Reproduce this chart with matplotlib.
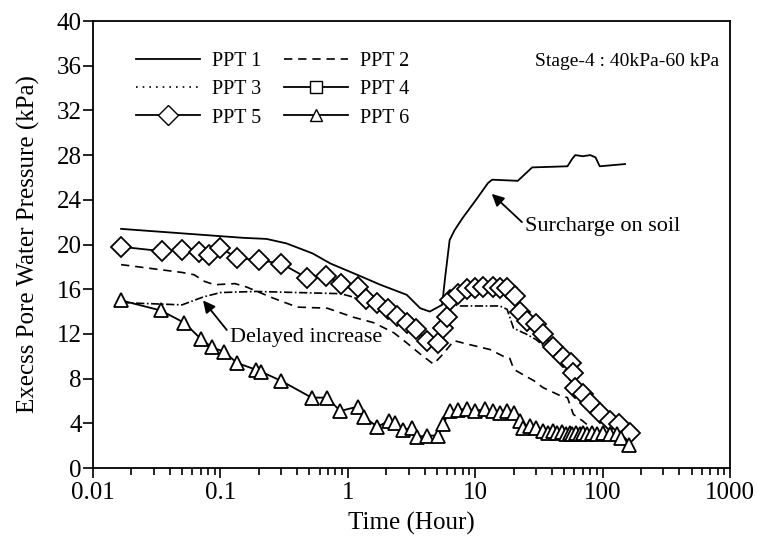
import matplotlib
matplotlib.use('Agg')

import matplotlib.pyplot as plt
from matplotlib.lines import Line2D

plt.rcParams['font.family'] = ['Liberation Serif', 'DejaVu Serif']

# ---------------- data : time (hour) / excess pore water pressure (kPa) ----------------
t_ppt1 = [0.0166, 0.15, 0.23, 0.33, 0.53, 0.73, 1.18, 1.8, 2.9, 3.7, 4.4, 5.5, 5.8,
          6.3, 6.9, 8.0, 10.3, 12.6, 13.6, 21.6, 28, 53, 58, 61, 70, 80, 88, 95, 150]
p_ppt1 = [21.4, 20.6, 20.5, 20.1, 19.2, 18.3, 17.3, 16.4, 15.5, 14.3, 14.0, 14.6, 17.0,
          20.4, 21.3, 22.4, 24.1, 25.5, 25.8, 25.7, 26.9, 27.0, 27.7, 28.0, 27.9, 28.0, 27.8, 27.0, 27.2]

t_ppt2 = [0.0166, 0.05, 0.062, 0.075, 0.09, 0.13, 0.16, 0.26, 0.4, 0.69, 1.1, 1.6, 2.3,
          2.9, 3.7, 4.7, 5.6, 6.8, 8.6, 13.1, 16.6, 18.7, 20, 21, 29, 34, 46, 53, 59, 70, 85]
p_ppt2 = [18.2, 17.5, 17.3, 16.7, 16.4, 16.5, 16.2, 15.2, 14.4, 14.3, 13.5, 13.0, 12.1,
          11.2, 10.2, 9.3, 10.2, 11.4, 11.1, 10.6, 10.0, 9.8, 8.9, 8.7, 7.8, 7.2, 6.5, 6.3, 4.8, 4.2, 3.4]

t_ppt3 = [0.0166, 0.05, 0.073, 0.1, 0.19, 0.88, 1.1, 1.6, 2.3, 2.9, 3.7, 4.4, 5.1, 5.8,
          6.3, 7.7, 15.6, 17.8, 20, 25, 30, 40, 50, 60, 80, 100, 130, 160]
p_ppt3 = [14.8, 14.6, 15.3, 15.7, 15.8, 15.6, 15.3, 14.4, 13.4, 12.7, 11.7, 11.0, 10.8, 12.0,
          14.7, 14.5, 14.5, 14.2, 12.5, 12.0, 11.5, 10.3, 9.0, 7.0, 5.2, 4.3, 3.5, 3.0]

t_ppt5 = [0.0166, 0.035, 0.05, 0.068, 0.082, 0.1, 0.135, 0.2, 0.3, 0.48, 0.67, 0.88, 1.2,
          1.4, 1.7, 2.05, 2.45, 2.9, 3.4, 4.2, 5.1, 5.6, 6.0, 6.3, 7.3, 8.6, 10, 11.5, 13.8,
          15.7, 17.8, 20.6, 22.5, 25.5, 30, 34, 41, 49, 56, 59, 61, 70, 80, 95, 115, 135, 165]
p_ppt5 = [19.8, 19.4, 19.5, 19.3, 19.1, 19.7, 18.8, 18.6, 18.3, 17.0, 17.2, 16.5, 16.2,
          15.1, 14.8, 14.2, 13.6, 13.0, 12.4, 11.4, 11.2, 12.5, 13.5, 15.0, 15.6, 16.0, 16.1, 16.2, 16.2,
          16.1, 16.1, 15.4, 14.0, 13.2, 12.9, 12.0, 10.8, 9.9, 9.4, 8.5, 7.2, 6.6, 5.8, 4.9, 4.2, 3.9, 3.1]

t_ppt6 = [0.0166, 0.034, 0.052, 0.071, 0.086, 0.107, 0.135, 0.19, 0.21, 0.3, 0.52, 0.69,
          0.87, 1.2, 1.33, 1.7, 2.1, 2.35, 2.7, 3.2, 3.5, 4.2, 5.1, 5.6, 6.3, 7.3, 8.6, 10,
          12, 13.8, 15.7, 17.8, 20, 22.5, 23.8, 27, 30, 34, 37, 41, 44, 48, 52, 55, 58, 62,
          66, 70, 76, 82, 90, 100, 115, 130, 140, 160]
p_ppt6 = [15.0, 14.1, 13.0, 11.5, 10.8, 10.4, 9.4, 8.8, 8.6, 7.8, 6.3, 6.3,
          5.1, 5.5, 4.6, 3.7, 4.2, 4.0, 3.4, 3.6, 2.8, 2.9, 2.9, 3.9, 5.1, 5.2, 5.3, 5.1,
          5.3, 5.1, 4.9, 5.1, 4.9, 4.2, 3.6, 3.8, 3.6, 3.3, 3.1, 3.3, 3.1, 3.2, 3.0, 3.1, 3.0, 3.1,
          3.0, 3.1, 3.0, 3.1, 3.0, 3.1, 3.0, 3.0, 2.7, 2.1]

y_ticks = [0, 4, 8, 12, 16, 20, 24, 28, 32, 36, 40]
x_ticks = [0.01, 0.1, 1, 10, 100, 1000]
x_ticklabels = ['0.01', '0.1', '1', '10', '100', '1000']

# ---------------- plot ----------------
fig = plt.figure(figsize=(7.57, 5.43), dpi=100)
ax = fig.add_axes([0.1229, 0.1381, 0.8414, 0.8232])

ax.plot(t_ppt1, p_ppt1, color='black', lw=1.3)
ax.plot(t_ppt2, p_ppt2, color='black', lw=1.2, linestyle=(0, (5, 3.5)))
ax.plot(t_ppt3, p_ppt3, color='black', lw=1.2, linestyle=(0, (5, 1.5, 1, 1.5)))
ax.plot(t_ppt5, p_ppt5, color='black', lw=1.3, marker='D', markersize=10,
        markerfacecolor='white', markeredgecolor='black', markeredgewidth=1.3)
ax.plot(t_ppt6, p_ppt6, color='black', lw=1.3, marker='^', markersize=10,
        markerfacecolor='white', markeredgecolor='black', markeredgewidth=1.3)

ax.set_xscale('log')
ax.set_xlim(0.01, 1000)
ax.set_ylim(0, 40)
ax.set_xticks(x_ticks)
ax.set_xticklabels(x_ticklabels)
ax.set_yticks(y_ticks)
ax.tick_params(axis='both', which='major', direction='out', length=7, width=1.2, labelsize=18)
ax.tick_params(axis='x', which='minor', direction='out', length=5, width=1.2)
ax.tick_params(axis='y', which='major', pad=1)
ax.tick_params(axis='x', which='major', pad=3)
for sp in ax.spines.values():
    sp.set_linewidth(1.3)

ax.set_xlabel('Time (Hour)', fontsize=18, labelpad=6)
ax.set_ylabel('Execss Pore Water Pressure (kPa)', fontsize=18, labelpad=12)

# legend (PPT 4 has no readings in this stage)
handles = [
    Line2D([], [], color='black', lw=1.3),
    Line2D([], [], color='black', lw=1.2, linestyle=(0, (1, 3))),
    Line2D([], [], color='black', lw=1.3, marker='D', markersize=10, markerfacecolor='white'),
    Line2D([], [], color='black', lw=1.2, linestyle=(0, (5, 3.5))),
    Line2D([], [], color='black', lw=1.3, marker='s', markersize=8, markerfacecolor='white'),
    Line2D([], [], color='black', lw=1.3, marker='^', markersize=9, markerfacecolor='white'),
]
labels = ['PPT 1', 'PPT 3', 'PPT 5', 'PPT 2', 'PPT 4', 'PPT 6']
ax.legend(handles, labels, ncol=2, frameon=False, fontsize=14.5, loc='upper left',
          bbox_to_anchor=(0.045, 0.962), handlelength=3.2, handletextpad=0.6,
          columnspacing=1.1, labelspacing=0.45, borderaxespad=0.3)

ax.text(0.983, 0.91, 'Stage-4 : 40kPa-60 kPa', transform=ax.transAxes,
        ha='right', va='center', fontsize=14)

ax.annotate('Delayed increase', xy=(0.073, 15.0), xytext=(0.118, 11.7),
            fontsize=16, ha='left', va='center',
            arrowprops=dict(arrowstyle='-|>', color='black', lw=1.3, mutation_scale=18,
                            shrinkA=0, shrinkB=0, relpos=(0, 0.7)))
ax.annotate('Surcharge on soil', xy=(13.0, 24.7), xytext=(24.5, 21.6),
            fontsize=16, ha='left', va='center',
            arrowprops=dict(arrowstyle='-|>', color='black', lw=1.3, mutation_scale=18,
                            shrinkA=0, shrinkB=2, relpos=(0, 0.6)))

fig.savefig('out.png', dpi=100)
